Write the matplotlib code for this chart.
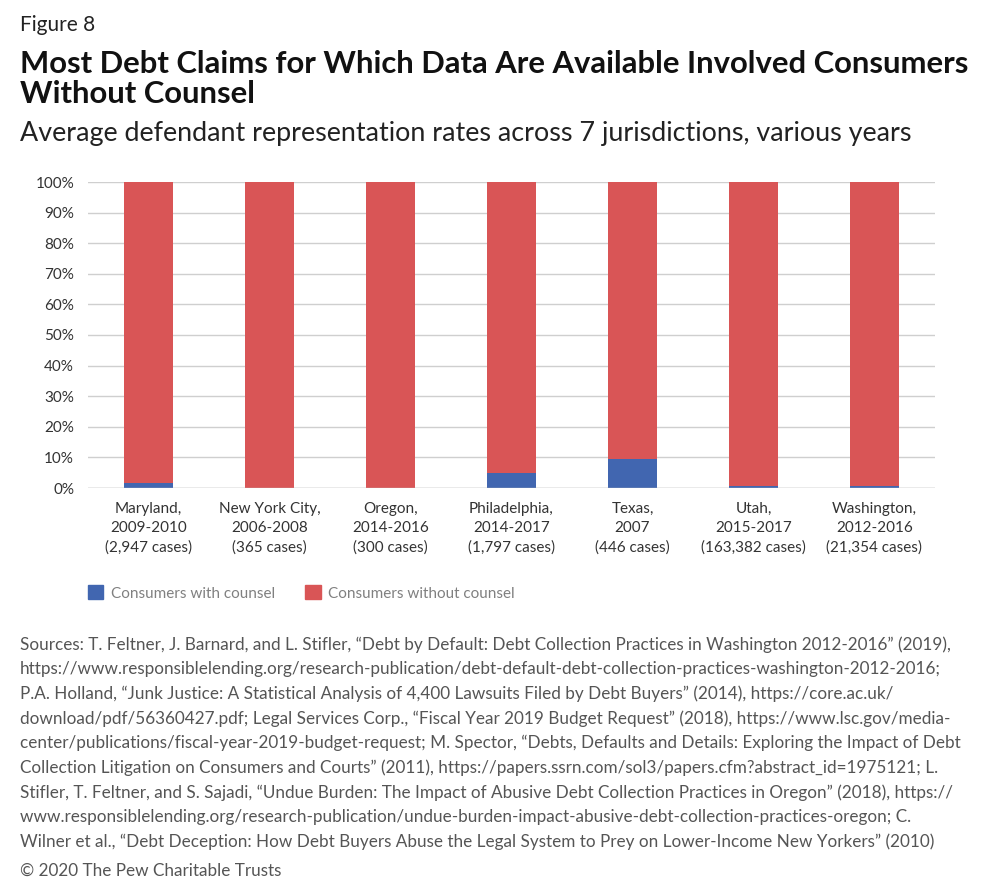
import numpy as np
import matplotlib.pyplot as plt
from matplotlib.patches import Patch

plt.rcParams['font.family'] = ['Lato', 'DejaVu Sans']

# data (percent of defendants)
places = ["Maryland,\n2009-2010\n(2,947 cases)",
          "New York City,\n2006-2008\n(365 cases)",
          "Oregon,\n2014-2016\n(300 cases)",
          "Philadelphia,\n2014-2017\n(1,797 cases)",
          "Texas,\n2007\n(446 cases)",
          "Utah,\n2015-2017\n(163,382 cases)",
          "Washington,\n2012-2016\n(21,354 cases)"]
with_counsel = [1.6, 0.0, 0.0, 4.8, 9.6, 0.7, 0.7]
without_counsel = [100 - v for v in with_counsel]
yticks = list(range(0, 101, 10))

blue = "#4166B0"
red = "#D95556"

fig = plt.figure(figsize=(9.9, 8.94), dpi=100)
ax = fig.add_axes([88/990, 1 - 488/894, (935-88)/990, (488-182)/894])

x = np.arange(len(places))
ax.bar(x, with_counsel, width=0.4, color=blue, zorder=3)
ax.bar(x, without_counsel, width=0.4, bottom=with_counsel, color=red, zorder=3)

ax.set_xlim(-0.5, len(places) - 0.5)
ax.set_ylim(0, 100)
ax.set_yticks(yticks)
ax.set_yticklabels([f"{t}%" for t in yticks], fontsize=11, color="#333333")
ax.set_xticks(x)
ax.set_xticklabels(places, fontsize=11, color="#333333", linespacing=1.45)
ax.tick_params(length=0, pad=10)
ax.tick_params(axis='x', pad=10)
ax.grid(axis='y', color="#CFCFCF", linewidth=1, zorder=0)
for s in ax.spines.values():
    s.set_visible(False)
ax.axhline(0, color="#BFBFBF", linewidth=1, zorder=4)

handles = [Patch(color=blue, label="Consumers with counsel"),
           Patch(color=red, label="Consumers without counsel")]
fig.legend(handles=handles, loc='center left', bbox_to_anchor=(74/990, 1 - 593/894),
           ncol=2, frameon=False, fontsize=11, labelcolor="#808080",
           handlelength=1.0, handleheight=1.0, columnspacing=2.0, handletextpad=0.5)

fig.text(20/990, 1 - 25/894, "Figure 8", fontsize=15, va='center', color="#222222")
fig.text(20/990, 1 - 79/894, "Most Debt Claims for Which Data Are Available Involved Consumers\nWithout Counsel",
         fontsize=22.3, fontweight='bold', va='center', color="#111111", linespacing=1.08)
fig.text(20/990, 1 - 133/894, "Average defendant representation rates across 7 jurisdictions, various years",
         fontsize=19.4, va='center', color="#222222")

sources = ("Sources: T. Feltner, J. Barnard, and L. Stifler, \u201cDebt by Default: Debt Collection Practices in Washington 2012-2016\u201d (2019),\n"
           "https://www.responsiblelending.org/research-publication/debt-default-debt-collection-practices-washington-2012-2016;\n"
           "P.A. Holland, \u201cJunk Justice: A Statistical Analysis of 4,400 Lawsuits Filed by Debt Buyers\u201d (2014), https://core.ac.uk/\n"
           "download/pdf/56360427.pdf; Legal Services Corp., \u201cFiscal Year 2019 Budget Request\u201d (2018), https://www.lsc.gov/media-\n"
           "center/publications/fiscal-year-2019-budget-request; M. Spector, \u201cDebts, Defaults and Details: Exploring the Impact of Debt\n"
           "Collection Litigation on Consumers and Courts\u201d (2011), https://papers.ssrn.com/sol3/papers.cfm?abstract_id=1975121; L.\n"
           "Stifler, T. Feltner, and S. Sajadi, \u201cUndue Burden: The Impact of Abusive Debt Collection Practices in Oregon\u201d (2018), https://\n"
           "www.responsiblelending.org/research-publication/undue-burden-impact-abusive-debt-collection-practices-oregon; C.\n"
           "Wilner et al., \u201cDebt Deception: How Debt Buyers Abuse the Legal System to Prey on Lower-Income New Yorkers\u201d (2010)")
fig.text(20/990, 1 - 636/894, sources, fontsize=12.3, va='top', color="#555555", linespacing=1.62)
fig.text(20/990, 1 - 871/894, "\u00a9 2020 The Pew Charitable Trusts", fontsize=12.3, va='center', color="#555555")

fig.savefig("out.png", dpi=100)
